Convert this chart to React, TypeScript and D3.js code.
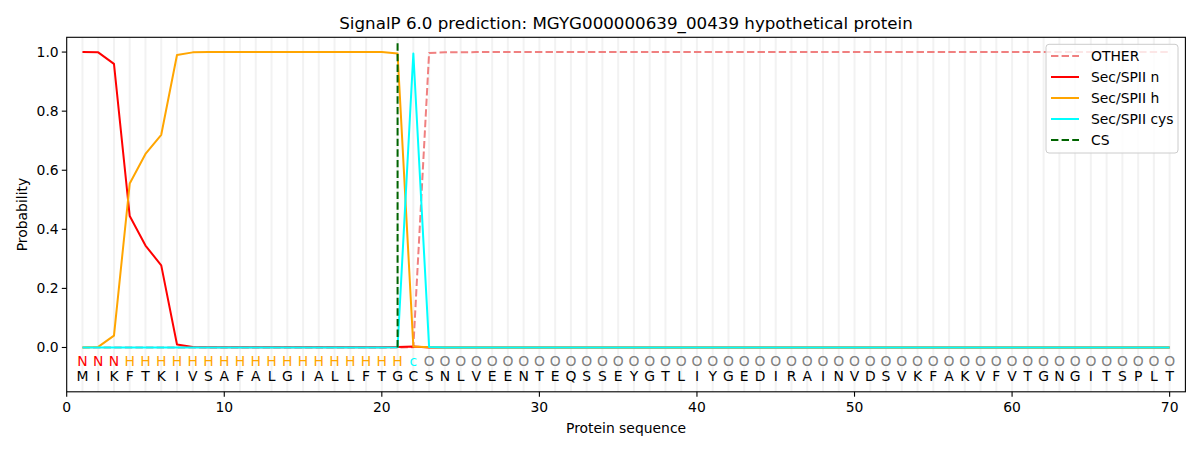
import * as d3 from "d3";

const sequence = "MIKFTKIVSAFALGIALLFTGCSNLVEENTEQSSEYGTLIYGEDIRAINVDSVKFAKVFVTGNGITSPLT".split("");
const regionLabels = "NNNHHHHHHHHHHHHHHHHHHcOOOOOOOOOOOOOOOOOOOOOOOOOOOOOOOOOOOOOOOOOOOOOOOO".split("");

// probabilities per residue (1..70)
const other = [
  0, 0, 0, 0, 0, 0, 0, 0, 0, 0,
  0, 0, 0, 0, 0, 0, 0, 0, 0, 0,
  0, 0.001, 0.997, 0.999, 0.999, 1, 1, 1, 1, 1,
  1, 1, 1, 1, 1, 1, 1, 1, 1, 1,
  1, 1, 1, 1, 1, 1, 1, 1, 1, 1,
  1, 1, 1, 1, 1, 1, 1, 1, 1, 1,
  1, 1, 1, 1, 1, 1, 1, 1, 1, 1,
];
const secN = [
  1.0, 0.999, 0.96, 0.445, 0.345, 0.278, 0.01, 0.002, 0.001, 0.001,
  0.001, 0.001, 0.001, 0.001, 0.001, 0.001, 0.001, 0.001, 0.001, 0.001,
  0.002, 0.003, 0, 0, 0, 0, 0, 0, 0, 0,
  0, 0, 0, 0, 0, 0, 0, 0, 0, 0,
  0, 0, 0, 0, 0, 0, 0, 0, 0, 0,
  0, 0, 0, 0, 0, 0, 0, 0, 0, 0,
  0, 0, 0, 0, 0, 0, 0, 0, 0, 0,
];
const secH = [
  0, 0.002, 0.04, 0.555, 0.655, 0.72, 0.99, 0.999, 1, 1,
  1, 1, 1, 1, 1, 1, 1, 1, 1, 1,
  0.995, 0.003, 0.001, 0, 0, 0, 0, 0, 0, 0,
  0, 0, 0, 0, 0, 0, 0, 0, 0, 0,
  0, 0, 0, 0, 0, 0, 0, 0, 0, 0,
  0, 0, 0, 0, 0, 0, 0, 0, 0, 0,
  0, 0, 0, 0, 0, 0, 0, 0, 0, 0,
];
const secCys = [
  0, 0, 0, 0, 0, 0, 0, 0, 0, 0,
  0, 0, 0, 0, 0, 0, 0, 0, 0, 0,
  0.001, 0.995, 0.002, 0, 0, 0, 0, 0, 0, 0,
  0, 0, 0, 0, 0, 0, 0, 0, 0, 0,
  0, 0, 0, 0, 0, 0, 0, 0, 0, 0,
  0, 0, 0, 0, 0, 0, 0, 0, 0, 0,
  0, 0, 0, 0, 0, 0, 0, 0, 0, 0,
];
const cleavageSite = 21;

const xTicks = [0, 10, 20, 30, 40, 50, 60, 70];
const yTicks = [0, 0.2, 0.4, 0.6, 0.8, 1.0];

const labelColor: Record<string, string> = { N: "red", H: "orange", c: "cyan", O: "grey" };

const series = [
  { name: "OTHER", values: other, color: "#f08080", dash: "7.4,3.2" },
  { name: "Sec/SPII n", values: secN, color: "red", dash: "" },
  { name: "Sec/SPII h", values: secH, color: "orange", dash: "" },
  { name: "Sec/SPII cys", values: secCys, color: "cyan", dash: "" },
];

const W = 1200;
const H = 450;
const font = "DejaVu Sans, sans-serif";

export default function App() {
  const x = d3.scaleLinear().domain([0, 71]).range([66.7, 1185.4]);
  const y = d3.scaleLinear().domain([-0.15, 1.05]).range([391.8, 37.3]);
  const positions = sequence.map((_, i) => i + 1);

  const line = (vals: number[]) =>
    d3
      .line<number>()
      .x((_, i) => x(i + 1))
      .y((d) => y(d))(vals) ?? "";

  const [x0, x1] = x.range();
  const [yb, yt] = y.range();
  const legendItems = [
    ...series.map((s) => ({ name: s.name, color: s.color, dash: s.dash })),
    { name: "CS", color: "darkgreen", dash: "7.4,3.2" },
  ];

  return (
    <svg width={W} height={H} style={{ position: "absolute", left: 0, top: 0 }} fontFamily={font}>
      <rect width={W} height={H} fill="white" />
      {positions.map((p) => (
        <line key={p} x1={x(p)} x2={x(p)} y1={yb} y2={yt} stroke="#808080" strokeOpacity={0.1} strokeWidth={2} />
      ))}
      {series.map((s) => (
        <path
          key={s.name}
          d={line(s.values)}
          fill="none"
          stroke={s.color}
          strokeWidth={2}
          strokeDasharray={s.dash || undefined}
          strokeLinejoin="round"
        />
      ))}
      <line
        x1={x(cleavageSite)}
        x2={x(cleavageSite)}
        y1={y(0)}
        y2={y(1.035)}
        stroke="darkgreen"
        strokeWidth={2}
        strokeDasharray="7.4,3.2"
      />
      {positions.map((p, i) => (
        <g key={p} fontSize={13.9} textAnchor="middle" dominantBaseline="central">
          <text x={x(p)} y={y(-0.047)} fill={labelColor[regionLabels[i]]}>
            {regionLabels[i]}
          </text>
          <text x={x(p)} y={y(-0.098)} fill="black">
            {sequence[i]}
          </text>
        </g>
      ))}
      <rect x={x0} y={yt} width={x1 - x0} height={yb - yt} fill="none" stroke="black" strokeWidth={1.1} />
      {xTicks.map((t) => (
        <g key={t}>
          <line x1={x(t)} x2={x(t)} y1={yb} y2={yb + 4.9} stroke="black" strokeWidth={1.1} />
          <text x={x(t)} y={yb + 15} fontSize={13.9} textAnchor="middle" dominantBaseline="central">
            {t}
          </text>
        </g>
      ))}
      {yTicks.map((t) => (
        <g key={t}>
          <line x1={x0 - 4.9} x2={x0} y1={y(t)} y2={y(t)} stroke="black" strokeWidth={1.1} />
          <text x={x0 - 8} y={y(t)} fontSize={13.9} textAnchor="end" dominantBaseline="central">
            {t.toFixed(1)}
          </text>
        </g>
      ))}
      <text x={(x0 + x1) / 2} y={428} fontSize={13.9} textAnchor="middle" dominantBaseline="central">
        Protein sequence
      </text>
      <text
        transform={`translate(21.7,${(yb + yt) / 2}) rotate(-90)`}
        fontSize={13.9}
        textAnchor="middle"
        dominantBaseline="central"
      >
        Probability
      </text>
      <text x={(x0 + x1) / 2} y={23} fontSize={16.7} textAnchor="middle" dominantBaseline="central">
        SignalP 6.0 prediction: MGYG000000639_00439 hypothetical protein
      </text>
      <g>
        <rect x={1046} y={44.3} width={132} height={108.7} rx={3} fill="white" fillOpacity={0.8} stroke="#cccccc" />
        {legendItems.map((it, i) => (
          <g key={it.name} transform={`translate(0,${56 + i * 21})`}>
            <line x1={1051} x2={1079} y1={0} y2={0} stroke={it.color} strokeWidth={2} strokeDasharray={it.dash || undefined} />
            <text x={1091} y={0} fontSize={13.9} dominantBaseline="central">
              {it.name}
            </text>
          </g>
        ))}
      </g>
    </svg>
  );
}
